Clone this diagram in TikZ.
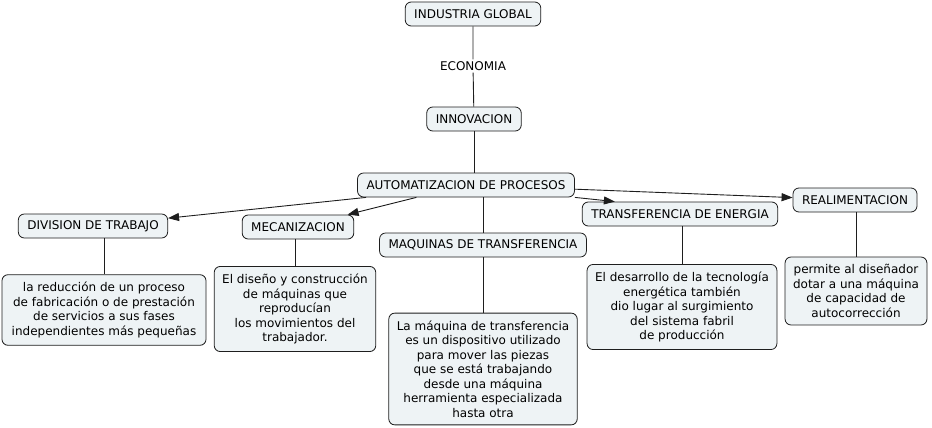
\documentclass[tikz,border=0pt]{standalone}
\usepackage{fontspec}
\setmainfont{DejaVu Sans}
\usetikzlibrary{arrows.meta}

\definecolor{cmapfill}{RGB}{238,243,245}
\definecolor{cmapline}{RGB}{30,30,30}

\tikzset{
  concept/.style={draw=cmapline, line width=0.8pt, fill=cmapfill, rounded corners=6pt,
    minimum height=24pt, inner xsep=9pt, font=\fontsize{12}{14}\selectfont},
  idea/.style={concept, align=center, inner xsep=8pt, inner ysep=7.5pt,
    font=\fontsize{12}{14.5}\selectfont},
  link/.style={draw=cmapline, line width=0.9pt},
  arr/.style={link, -{Triangle[length=11pt,width=8pt]}}
}

\begin{document}
\begin{tikzpicture}[x=1pt,y=-1pt]
\useasboundingbox (0,0) rectangle (932,428);

\node[concept] (ind) at (473,14) {INDUSTRIA GLOBAL};
\node[font=\fontsize{12}{14}\selectfont, fill=white, inner sep=2pt] (eco) at (473,66) {ECONOMIA};
\node[concept] (inn) at (474,119) {INNOVACION};
\node[concept] (aut) at (466,185) {AUTOMATIZACION DE PROCESOS};

\node[concept] (div) at (93,226) {DIVISION DE TRABAJO};
\node[concept] (mec) at (298,227) {MECANIZACION};
\node[concept] (maq) at (483,245) {MAQUINAS DE TRANSFERENCIA};
\node[concept] (ene) at (680,214) {TRANSFERENCIA DE ENERGIA};
\node[concept] (rea) at (855,200) {REALIMENTACION};

\node[idea, minimum width=204pt] (divtxt) at (104,310) {la reducción de un proceso\\de fabricación o de prestación\\de servicios a sus fases\\independientes más pequeñas};
\node[idea] (mectxt) at (295,309) {El diseño y construcción\\de máquinas que\\reproducían\\los movimientos del\\trabajador.};
\node[idea] (maqtxt) at (483,369) {La máquina de transferencia\\es un dispositivo utilizado\\para mover las piezas\\que se está trabajando\\desde una máquina\\herramienta especializada\\hasta otra};
\node[idea] (enetxt) at (682,307) {El desarrollo de la tecnología\\energética también\\dio lugar al surgimiento\\del sistema fabril\\de producción};
\node[idea] (reatxt) at (856,291) {permite al diseñador\\dotar a una máquina\\de capacidad de\\autocorrección};

\draw[link] (ind) -- (eco) -- (inn);
\draw[link] (inn.south) -- (inn.south |- aut.north);
\draw[link] (maq.north) -- (maq.north |- aut.south);

\draw[arr] (aut.south west) ++(9,0) -- (div);
\draw[arr] (aut) -- (mec);
\draw[arr] (aut.south east) -- ([xshift=33pt]ene.north west);
\draw[arr] (aut) -- (rea);

\draw[link] (divtxt.north) -- (divtxt.north |- div.south);
\draw[link] (mectxt.north) -- (mectxt.north |- mec.south);
\draw[link] (maqtxt.north) -- (maqtxt.north |- maq.south);
\draw[link] (enetxt.north) -- (enetxt.north |- ene.south);
\draw[link] (reatxt.north) -- (reatxt.north |- rea.south);
\end{tikzpicture}
\end{document}
